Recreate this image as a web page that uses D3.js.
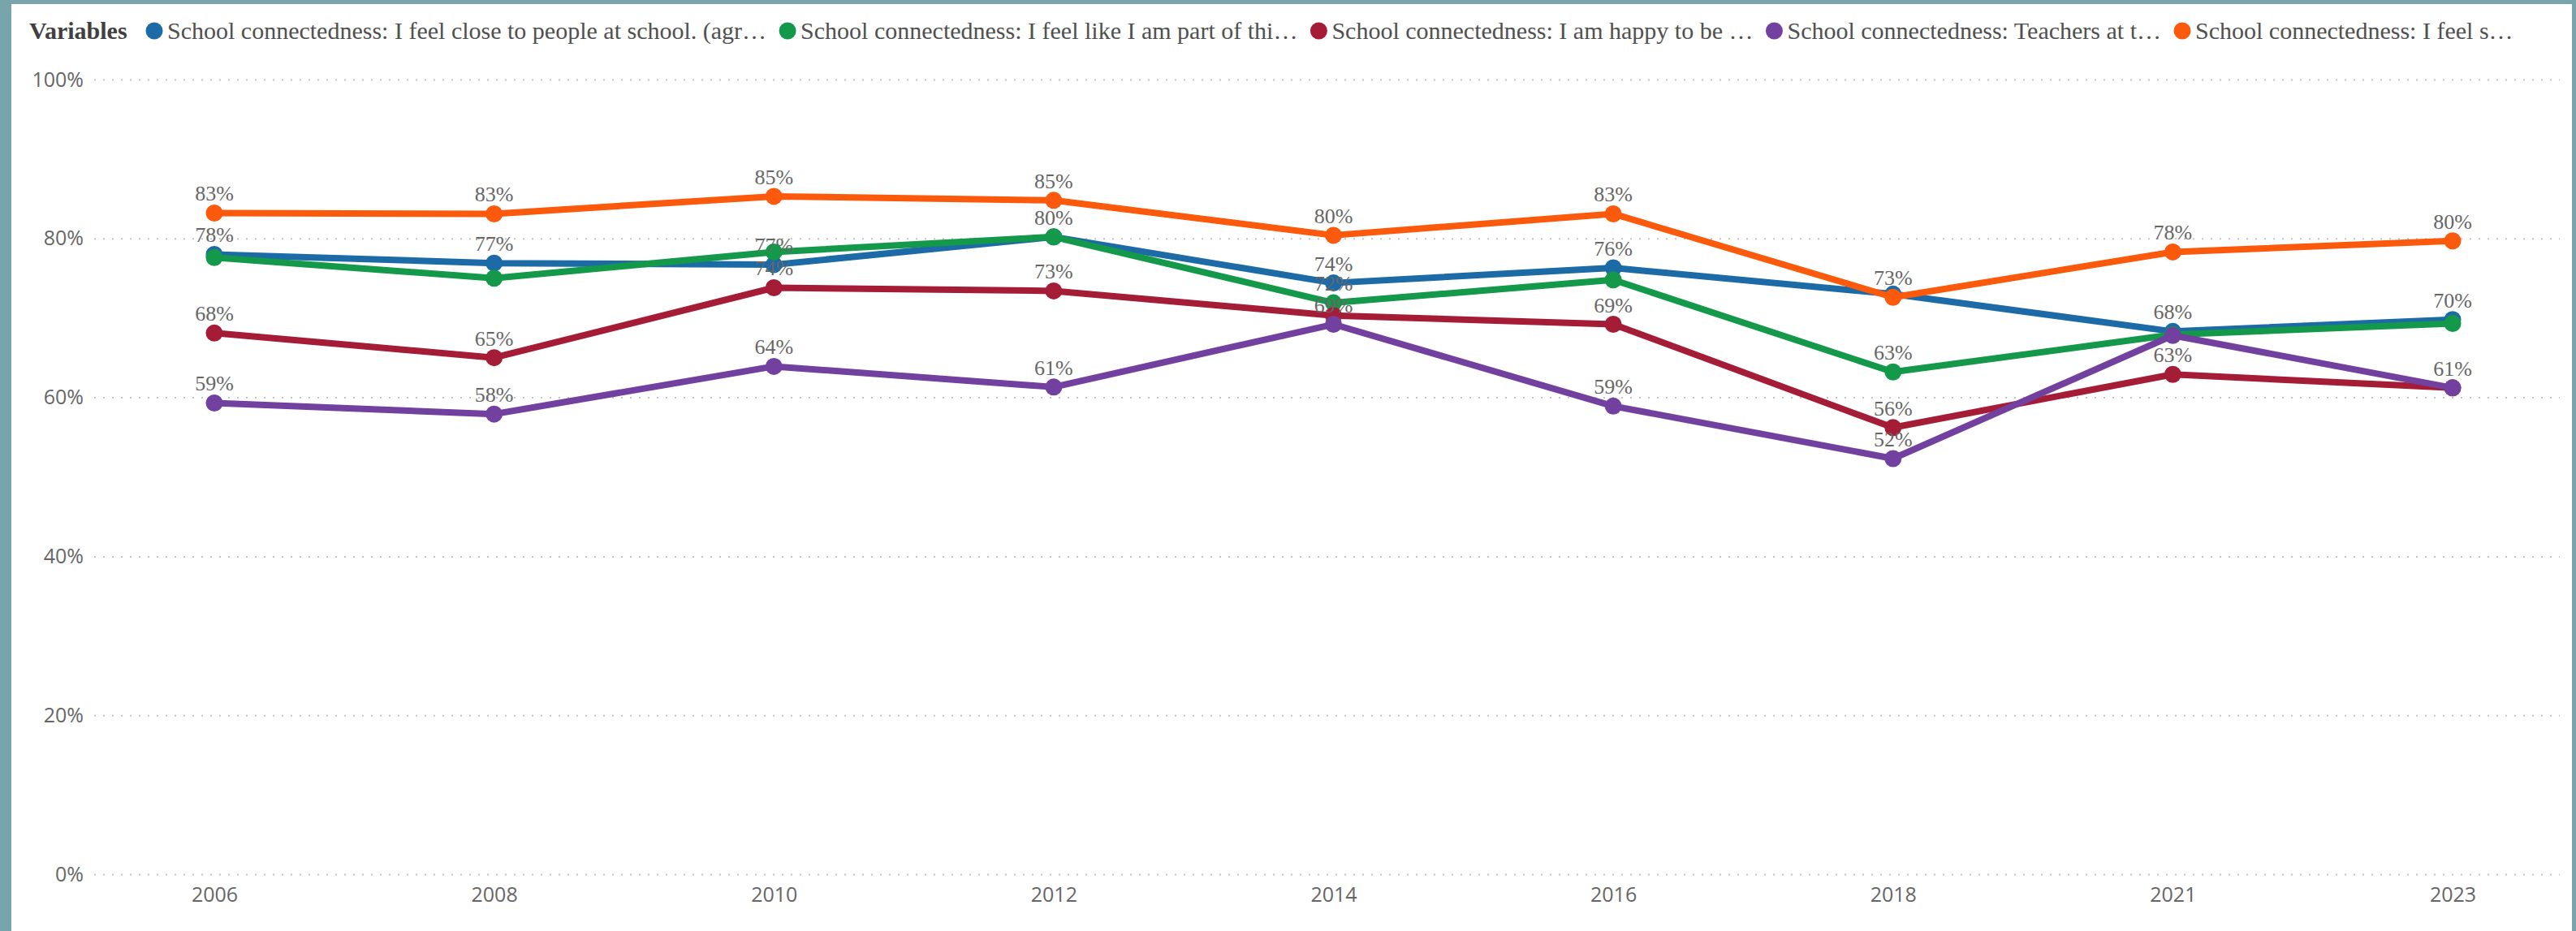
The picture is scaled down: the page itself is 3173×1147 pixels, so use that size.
<!DOCTYPE html>
<html>
<head>
<meta charset="utf-8">
<script src="https://cdn.jsdelivr.net/npm/d3@7"></script>
<style>
  html, body { margin: 0; padding: 0; background: #78a5ac; }
  svg { display: block; }
</style>
</head>
<body>
<svg id="chart" width="3173" height="1147"></svg>
<script>
// Survey years (categorical x axis)
const years = ["2006", "2008", "2010", "2012", "2014", "2016", "2018", "2021", "2023"];

// Series names as shown (truncated) in the legend
const seriesNames = [
  "School connectedness: I feel close to people at school. (agr\u2026",
  "School connectedness: I feel like I am part of thi\u2026",
  "School connectedness: I am happy to be \u2026",
  "School connectedness: Teachers at t\u2026",
  "School connectedness: I feel s\u2026"
];

// Percent agreeing, per year
const closeToPeople = [78.0, 76.9, 76.7, 80.2, 74.4, 76.3, 73.0, 68.3, 69.8];
const partOfSchool  = [77.6, 75.0, 78.3, 80.2, 71.9, 74.8, 63.2, 67.9, 69.3];
const happyToBe     = [68.1, 65.0, 73.8, 73.4, 70.3, 69.2, 56.2, 62.9, 61.2];
const teachersFair  = [59.3, 57.9, 63.9, 61.3, 69.2, 58.9, 52.3, 67.8, 61.2];
const feelSafe      = [83.2, 83.1, 85.3, 84.8, 80.4, 83.1, 72.6, 78.3, 79.7];

// Which data labels are displayed (others are suppressed where they collide)
const labelsClose = [1, 1, 1, 1, 1, 1, 0, 1, 1];
const labelsPart  = [0, 0, 0, 0, 1, 0, 1, 0, 0];
const labelsHappy = [1, 1, 1, 1, 0, 1, 1, 1, 0];
const labelsTeach = [1, 1, 1, 1, 1, 1, 1, 0, 1];
const labelsSafe  = [1, 1, 1, 1, 1, 1, 1, 1, 1];

const yTicks = [0, 20, 40, 60, 80, 100];

const colors = ["#1c6aa6", "#14994b", "#a51c36", "#7241a0", "#fb5a0c"];

const series = [
  { name: seriesNames[0], values: closeToPeople, labels: labelsClose, color: colors[0] },
  { name: seriesNames[1], values: partOfSchool,  labels: labelsPart,  color: colors[1] },
  { name: seriesNames[2], values: happyToBe,     labels: labelsHappy, color: colors[2] },
  { name: seriesNames[3], values: teachersFair,  labels: labelsTeach, color: colors[3] },
  { name: seriesNames[4], values: feelSafe,      labels: labelsSafe,  color: colors[4] }
];

const svg = d3.select("#chart");

// White card inside the teal frame
svg.append("rect")
  .attr("x", 14).attr("y", 5)
  .attr("width", 3168 - 14).attr("height", 1147 - 5)
  .attr("fill", "#ffffff");

const x = d3.scalePoint().domain(years).range([264, 3021]);
const y = d3.scaleLinear().domain([0, 100]).range([1077, 98]);

// Gridlines + y labels
const yAxis = d3.axisLeft(y)
  .tickValues(yTicks)
  .tickFormat(d => d + "%")
  .tickSize(-(3153 - 116))
  .tickPadding(13);

const gy = svg.append("g")
  .attr("transform", "translate(116,0)")
  .call(yAxis);
gy.select(".domain").remove();
gy.selectAll(".tick line")
  .attr("stroke", "#c4c4c4")
  .attr("stroke-width", 2)
  .attr("stroke-dasharray", "2,9");
gy.selectAll(".tick text")
  .attr("fill", "#666666")
  .style("font-family", "'Open Sans', sans-serif")
  .style("font-size", "25px");

// X axis labels
const xAxis = d3.axisBottom(x).tickSize(0).tickPadding(0);
const gx = svg.append("g")
  .attr("transform", "translate(0,1093)")
  .call(xAxis);
gx.select(".domain").remove();
gx.selectAll(".tick text")
  .attr("fill", "#666666")
  .attr("dy", "0.71em")
  .style("font-family", "'Open Sans', sans-serif")
  .style("font-size", "25px");

// Lines and markers
const line = d3.line()
  .x((d, i) => x(years[i]))
  .y(d => y(d));

const plot = svg.append("g");
series.forEach(s => {
  const g = plot.append("g");
  g.append("path")
    .datum(s.values)
    .attr("d", line)
    .attr("fill", "none")
    .attr("stroke", s.color)
    .attr("stroke-width", 8)
    .attr("stroke-linejoin", "round");
  g.selectAll("circle")
    .data(s.values)
    .join("circle")
    .attr("cx", (d, i) => x(years[i]))
    .attr("cy", d => y(d))
    .attr("r", 10.5)
    .attr("fill", s.color);
});

// Data labels
const labelG = svg.append("g")
  .style("font-family", "'Liberation Serif', 'Times New Roman', serif")
  .style("font-size", "26px")
  .attr("fill", "#666666")
  .attr("text-anchor", "middle");
series.forEach(s => {
  s.values.forEach((v, i) => {
    if (!s.labels[i]) return;
    labelG.append("text")
      .attr("x", x(years[i]))
      .attr("y", y(v) - 15)
      .text(Math.round(v) + "%");
  });
});

// Legend
const legend = svg.append("g")
  .style("font-family", "'Liberation Serif', 'Times New Roman', serif")
  .style("font-size", "30px");
legend.append("text")
  .attr("x", 36).attr("y", 48)
  .attr("fill", "#404040")
  .attr("font-weight", "bold")
  .text("Variables");

let cx = 190;
series.forEach(s => {
  legend.append("circle")
    .attr("cx", cx).attr("cy", 38).attr("r", 10.5)
    .attr("fill", s.color);
  const t = legend.append("text")
    .attr("x", cx + 16).attr("y", 48)
    .attr("fill", "#505050")
    .text(s.name);
  cx = cx + 16 + t.node().getComputedTextLength() + 26;
});
</script>
</body>
</html>
